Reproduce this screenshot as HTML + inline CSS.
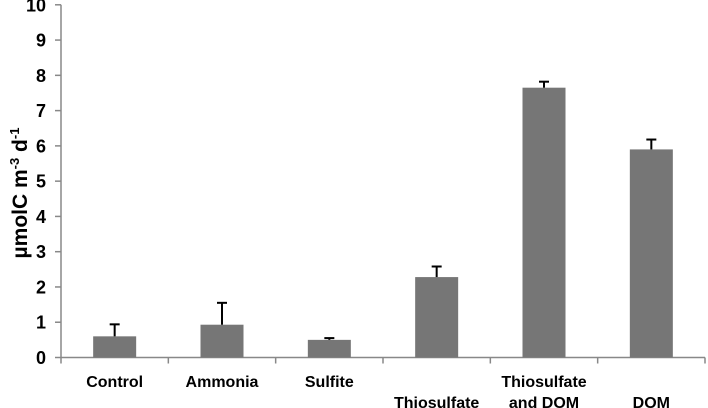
<!DOCTYPE html>
<html><head><meta charset="utf-8"><style>
html,body{margin:0;padding:0;background:#fff;}
svg{display:block;font-family:"Liberation Sans",Arial,sans-serif;font-weight:bold;}
</style></head><body>
<svg id="chart" width="708" height="408" viewBox="0 0 708 408">
<text transform="translate(27,193) rotate(-90)" text-anchor="middle" font-size="21" fill="#000">µmolC m<tspan dy="-8" font-size="13">-3</tspan><tspan dy="8"> d</tspan><tspan dy="-8" font-size="13">-1</tspan></text>
</svg>
<script>
const categories=[["Control"],["Ammonia"],["Sulfite"],["","Thiosulfate"],["Thiosulfate","and DOM"],["","DOM"]];
const values=[0.6,0.93,0.5,2.28,7.65,5.9];
const errors=[0.34,0.62,0.05,0.3,0.17,0.28];
const yTicks=[0,1,2,3,4,5,6,7,8,9,10];
const svg=document.getElementById('chart');
const NS='http://www.w3.org/2000/svg';
const x0=61,x1=705,y0=357.5,unit=35.27;
const bw=(x1-x0)/categories.length;
function y(v){return y0-v*unit;}
function xc(i){return x0+bw*(i+0.5);}
function mk(t,a,p){const e=document.createElementNS(NS,t);for(const k in a)e.setAttribute(k,a[k]);(p||svg).appendChild(e);return e;}
const ya=mk('line',{x1:x0,x2:x0,y1:y(10),y2:y0,stroke:'#888','stroke-width':1.5});


yTicks.forEach(t=>{
  const tl=mk('line',{x1:x0-6,x2:x0,y1:y(t),y2:y(t),stroke:'#888','stroke-width':1.5});
  
  
  const lb=mk('text',{x:46,y:y(t)+6.5,'text-anchor':'end','font-size':18,fill:'#000'});
  lb.textContent=t;
  
  
});
const xa=mk('line',{x1:x0,x2:x1,y1:y0,y2:y0,stroke:'#888','stroke-width':1.5});


for(let i=0;i<=categories.length;i++){
  const tk=mk('line',{x1:x0+bw*i,x2:x0+bw*i,y1:y0,y2:y0+6,stroke:'#888','stroke-width':1.5});
  
  
}
categories.forEach((c,i)=>{
  const b=mk('rect',{x:xc(i)-21.5,y:y(values[i]),width:43,height:y0-y(values[i]),fill:'#767676'});
  
  
  const top=y(values[i]+errors[i]);
  const g=mk('g',{stroke:'#000','stroke-width':2});
  
  
  mk('line',{x1:xc(i),x2:xc(i),y1:y(values[i]),y2:top},g);
  mk('line',{x1:xc(i)-5,x2:xc(i)+5,y1:top,y2:top},g);
  c.forEach((ln,j)=>{
    if(!ln)return;
    const t=mk('text',{x:xc(i),y:j===0?387:408,'text-anchor':'middle','font-size':16,fill:'#000'});
    t.textContent=ln;
    
    
  });
});
</script>
</body></html>
